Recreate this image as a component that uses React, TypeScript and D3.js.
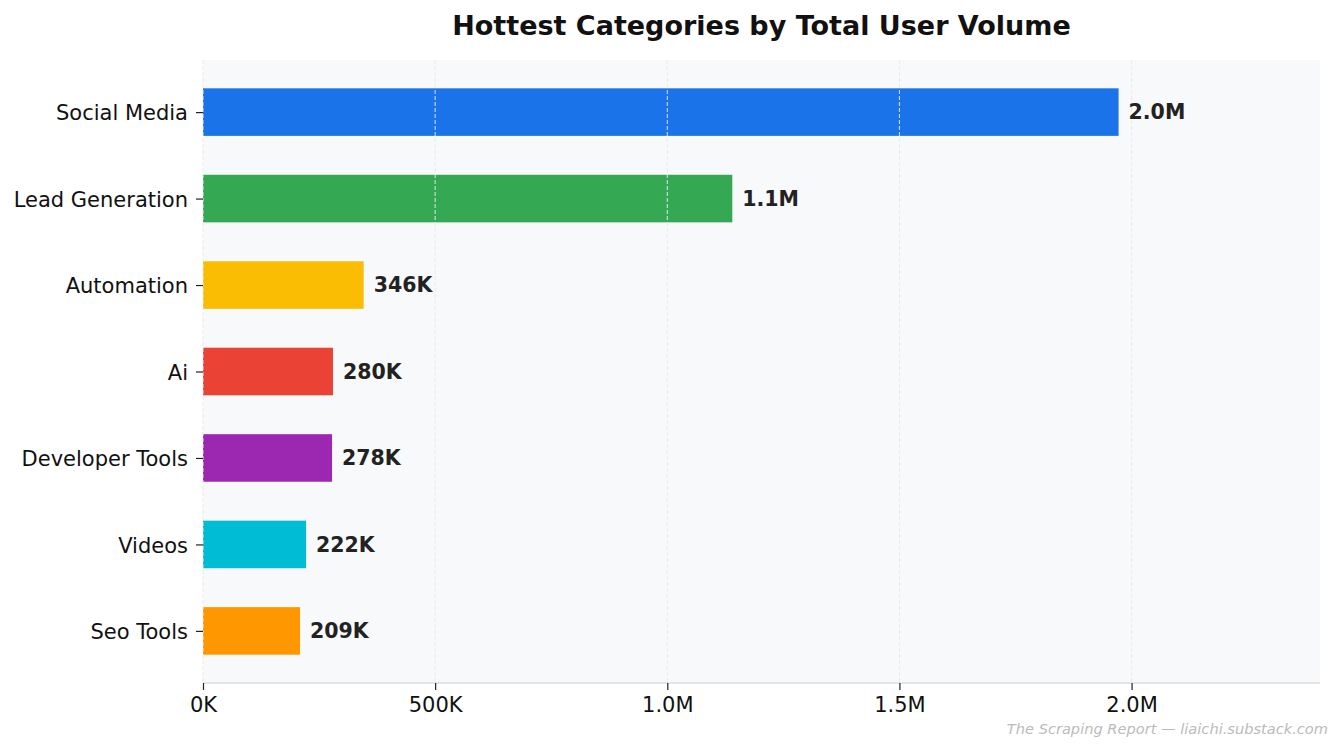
import { useEffect, useRef } from 'react'
import * as d3 from 'd3'

// ── data ─────────────────────────────────────────────────────────────────────
const CATEGORIES = ['Social Media', 'Lead Generation', 'Automation', 'Ai', 'Developer Tools', 'Videos', 'Seo Tools']
const VOLUMES    = [1972000, 1140000, 346000, 280000, 278000, 222000, 209000]
const COLORS     = ['#1a73e8', '#34a853', '#fbbc04', '#ea4335', '#9c27b0', '#00bcd4', '#ff9800']
const X_TICKS    = [0, 500000, 1000000, 1500000, 2000000]

const TITLE     = 'Hottest Categories by Total User Volume'
const WATERMARK = 'The Scraping Report — liaichi.substack.com'

// ── layout ───────────────────────────────────────────────────────────────────
const W = 1343
const H = 752
const M = { top: 60, right: 23, bottom: 69, left: 203 }
const FONT = '"DejaVu Sans", Verdana, sans-serif'

const fmtVal = (v: number) => v >= 1e6 ? `${(v / 1e6).toFixed(1)}M` : `${Math.round(v / 1e3)}K`
const fmtTick = (v: number) => v >= 1e6 ? `${(v / 1e6).toFixed(1)}M` : `${Math.round(v / 1e3)}K`

export default function App() {
  const ref = useRef<SVGSVGElement>(null)

  useEffect(() => {
    if (!ref.current) return
    const svg = d3.select(ref.current)
    svg.selectAll('*').remove()

    const iW = W - M.left - M.right
    const iH = H - M.top - M.bottom
    const g = svg.append('g').attr('transform', `translate(${M.left},${M.top})`)

    const x = d3.scaleLinear().domain([0, d3.max(VOLUMES)! * 1.22]).range([0, iW])
    // matplotlib-style: bar height 0.55, 5% margins
    const n = CATEGORIES.length
    const lo = -0.275 - 0.05 * (n - 1 + 0.55)
    const hi = n - 1 + 0.275 + 0.05 * (n - 1 + 0.55)
    const y = d3.scaleLinear().domain([lo, hi]).range([0, iH])
    const bh = y(0.55) - y(0)

    // background
    g.append('rect').attr('width', iW).attr('height', iH).attr('fill', '#f8f9fa')

    // bars
    g.selectAll('rect.bar')
      .data(VOLUMES)
      .join('rect')
        .attr('class', 'bar')
        .attr('x', 0)
        .attr('y', (_, i) => y(i) - bh / 2)
        .attr('width', v => x(v))
        .attr('height', bh)
        .attr('fill', (_, i) => COLORS[i])

    // grid on top of bars
    g.append('g')
      .selectAll('line')
      .data(X_TICKS)
      .join('line')
        .attr('x1', v => x(v)).attr('x2', v => x(v))
        .attr('y1', 0).attr('y2', iH)
        .attr('stroke', '#e8e9ee').attr('stroke-opacity', 0.95)
        .attr('stroke-width', 1).attr('stroke-dasharray', '4,2')

    // value labels
    g.selectAll('text.val')
      .data(VOLUMES)
      .join('text')
        .attr('class', 'val')
        .attr('x', v => x(v) + 10)
        .attr('y', (_, i) => y(i))
        .attr('dy', '0.35em')
        .attr('font-family', FONT).attr('font-size', 20.5).attr('font-weight', 'bold')
        .attr('fill', '#222222')
        .text(v => fmtVal(v))

    // bottom spine
    g.append('line')
      .attr('x1', 0).attr('x2', iW).attr('y1', iH).attr('y2', iH)
      .attr('stroke', '#dddddd').attr('stroke-width', 1.5)

    // x axis
    const xa = g.append('g')
      .attr('transform', `translate(0,${iH})`)
      .call(d3.axisBottom(x).tickValues(X_TICKS).tickFormat(v => fmtTick(+v)).tickSize(7).tickPadding(7))
    xa.select('.domain').remove()
    xa.selectAll('line').attr('stroke', '#222').attr('stroke-width', 1.2)
    xa.selectAll('text').attr('font-family', FONT).attr('font-size', 21).attr('fill', '#111')

    // y axis
    const ya = g.append('g')
      .call(d3.axisLeft(y).tickValues(d3.range(n)).tickFormat(i => CATEGORIES[+i]).tickSize(7).tickPadding(8))
    ya.select('.domain').remove()
    ya.selectAll('line').attr('stroke', '#222').attr('stroke-width', 1.2)
    ya.selectAll('text').attr('font-family', FONT).attr('font-size', 21).attr('fill', '#111').attr('dy', '0.37em')

    // title
    svg.append('text')
      .attr('x', M.left + iW / 2).attr('y', 35)
      .attr('text-anchor', 'middle')
      .attr('font-family', FONT).attr('font-size', 27).attr('font-weight', 'bold')
      .attr('fill', '#111')
      .text(TITLE)

    // watermark
    svg.append('text')
      .attr('x', 1328).attr('y', 734)
      .attr('text-anchor', 'end')
      .attr('font-family', FONT).attr('font-size', 14.6).attr('font-style', 'italic')
      .attr('fill', '#bbbbbb')
      .text(WATERMARK)
  }, [])

  return (
    <div style={{ position: 'absolute', left: 0, top: 0 }}>
      <svg ref={ref} width={W} height={H} style={{ display: 'block', background: '#ffffff' }} />
    </div>
  )
}
